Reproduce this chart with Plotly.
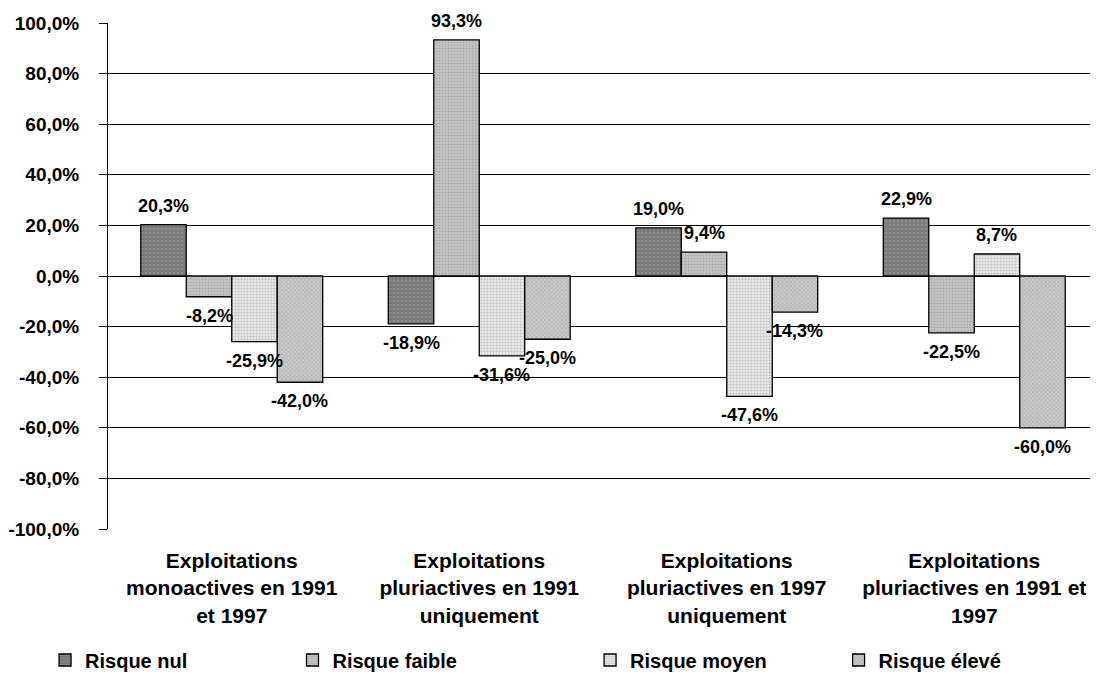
import plotly.graph_objects as go

categories = [
    "Exploitations<br>monoactives en 1991<br>et 1997",
    "Exploitations<br>pluriactives en 1991<br>uniquement",
    "Exploitations<br>pluriactives en 1997<br>uniquement",
    "Exploitations<br>pluriactives en 1991 et<br>1997",
]
series_names = ["Risque nul", "Risque faible", "Risque moyen", "Risque élevé"]
risque_nul = [20.3, -18.9, 19.0, 22.9]
risque_faible = [-8.2, 93.3, 9.4, -22.5]
risque_moyen = [-25.9, -31.6, -47.6, 8.7]
risque_eleve = [-42.0, -25.0, -14.3, -60.0]
tick_values = [-100, -80, -60, -40, -20, 0, 20, 40, 60, 80, 100]
tick_labels = [f"{v:.1f}%".replace(".", ",") for v in tick_values]

series = [risque_nul, risque_faible, risque_moyen, risque_eleve]
styles = [
    dict(bg="#7a7a7a", fg="#8c8c8c", shape=".", size=4, sol=0.3),
    dict(bg="#c6c6c6", fg="#aaaaaa", shape=".", size=3, sol=0.35),
    dict(bg="#e8e8e8", fg="#bdbdbd", shape="+", size=3, sol=0.3),
    dict(bg="#c8c8c8", fg="#a6a6a6", shape="x", size=3, sol=0.3),
]
legend_x = [0.034, 0.261, 0.534, 0.762]

FONT = "Arial, Liberation Sans, sans-serif"
PLOT_W = 990
N_CAT = len(categories)
BARGAP = 0.265
BAR_PX = PLOT_W / N_CAT * (1 - BARGAP) / len(series)

fig = go.Figure()
legend_ids = ["legend", "legend2", "legend3", "legend4"]
for name, vals, st, lid in zip(series_names, series, styles, legend_ids):
    fig.add_trace(go.Bar(
        x=categories, y=vals, name=name, legend=lid,
        marker=dict(
            color=st["bg"],
            line=dict(color="#000000", width=1.3),
            pattern=dict(shape=st["shape"], fgcolor=st["fg"], bgcolor=st["bg"],
                         size=st["size"], solidity=st["sol"], fillmode="replace"),
        ),
    ))

# value labels
for i, vals in enumerate(series):
    for cat, v in zip(categories, vals):
        fig.add_annotation(
            x=cat, y=v, xref="x", yref="y",
            text=f"{v:.1f}%".replace(".", ","),
            showarrow=False,
            xshift=(i - (len(series) - 1) / 2) * BAR_PX,
            yanchor="bottom" if v >= 0 else "top",
            yshift=7 if v >= 0 else -7,
            font=dict(family=FONT, size=18, color="#000000", weight="bold"),
        )

legend_common = dict(
    orientation="h", xref="container", xanchor="left",
    yref="container", y=0.0225, yanchor="middle",
    font=dict(family=FONT, size=20, color="#000000", weight="bold"),
    itemclick=False, bgcolor="rgba(0,0,0,0)",
)

fig.update_layout(
    width=1090, height=667,
    margin=dict(l=100, r=0, t=15, b=146, autoexpand=False),
    paper_bgcolor="#ffffff", plot_bgcolor="#ffffff",
    barmode="group", bargap=BARGAP, bargroupgap=0.0,
    font=dict(family=FONT, size=14, color="#000000", weight="bold"),
    legend=dict(x=legend_x[0], **legend_common),
    legend2=dict(x=legend_x[1], **legend_common),
    legend3=dict(x=legend_x[2], **legend_common),
    legend4=dict(x=legend_x[3], **legend_common),
    showlegend=True,
)
fig.update_yaxes(
    range=[-100, 100], tickvals=tick_values, ticktext=tick_labels,
    showgrid=True, gridcolor="#000000", gridwidth=1,
    zeroline=True, zerolinecolor="#000000", zerolinewidth=1,
    showline=True, linecolor="#000000", linewidth=1,
    ticks="outside", ticklen=8, tickcolor="#000000",
    ticklabelstandoff=16,
    tickfont=dict(family=FONT, size=19, color="#000000", weight="bold"),
)
fig.update_xaxes(
    showgrid=False, showline=False, ticks="",
    tickfont=dict(family=FONT, size=21, color="#000000", weight="bold"),
    ticklabelstandoff=17,
)

fig.write_html("out.html")
